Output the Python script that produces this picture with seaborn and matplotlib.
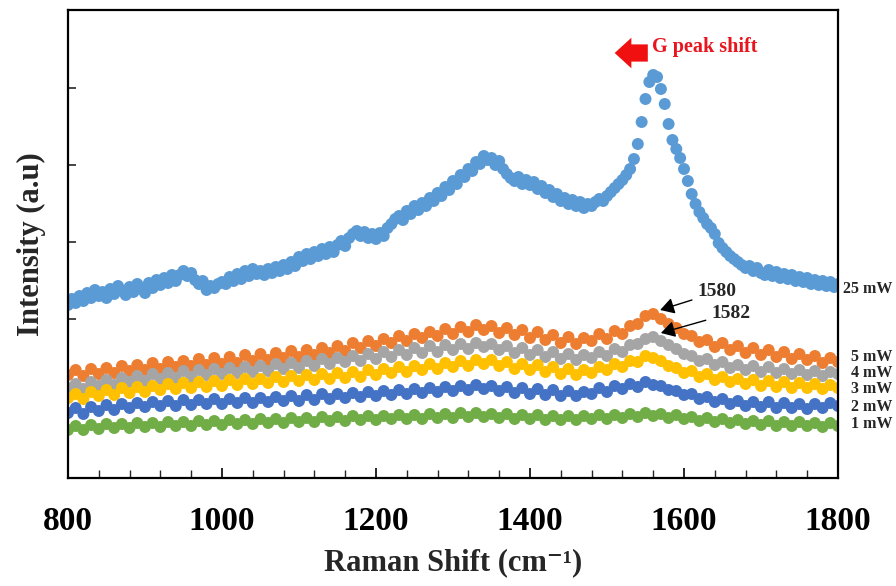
import numpy as np
import pandas as pd
import matplotlib
matplotlib.use("Agg")
import matplotlib.pyplot as plt
from matplotlib.ticker import MultipleLocator
import seaborn as sns

# Raman shift grids (cm^-1)
shift_fine = np.arange(800, 1805, 5)
shift_coarse = np.arange(800, 1810, 10)

# Intensity (a.u.) for each laser power
i_25mw = [
    169, 175, 171, 178, 173, 181, 176, 184, 178, 182, 176, 185, 180, 188, 183, 179, 187, 182, 190, 185,
    181, 191, 186, 194, 189, 196, 191, 199, 193, 199, 203, 198, 201, 194, 190, 193, 184, 188, 186, 190,
    192, 190, 197, 193, 200, 195, 203, 198, 205, 200, 203, 199, 205, 201, 207, 203, 209, 205, 212, 208,
    217, 213, 220, 215, 222, 218, 225, 220, 227, 222, 229, 233, 228, 236, 240, 243, 238, 242, 236, 240,
    235, 241, 238, 246, 250, 255, 258, 254, 263, 260, 268, 264, 271, 268, 276, 273, 281, 278, 287, 284,
    293, 290, 299, 297, 305, 303, 312, 310, 318, 314, 316, 309, 313, 305, 300, 296, 293, 297, 290, 294,
    289, 292, 285, 288, 281, 284, 277, 280, 273, 276, 270, 274, 268, 272, 266, 270, 268, 272, 275, 273,
    278, 282, 286, 290, 294, 299, 305, 315, 330, 352, 375, 392, 399, 397, 385, 370, 350, 334, 325, 316,
    305, 293, 280, 270, 262, 256, 250, 246, 240, 231, 226, 222, 218, 215, 212, 209, 206, 208, 203, 206,
    201, 199, 204, 198, 202, 196, 200, 195, 199, 193, 197, 192, 196, 190, 194, 189, 193, 188, 192, 187,
    190,
]
i_5mw = [
    99, 104, 98, 105, 100, 106, 101, 108, 103, 109, 104, 111, 105, 112, 107, 113, 108, 115, 109, 116,
    110, 117, 111, 119, 113, 120, 114, 121, 116, 123, 117, 124, 119, 126, 121, 128, 123, 131, 126, 133,
    128, 135, 131, 138, 133, 140, 136, 142, 138, 145, 140, 147, 142, 149, 144, 148, 141, 146, 139, 144,
    136, 142, 134, 139, 131, 137, 130, 136, 133, 140, 135, 143, 140, 148, 150, 158, 160, 155, 150, 146,
    140, 138, 132, 134, 127, 131, 124, 128, 121, 126, 119, 124, 117, 122, 115, 120, 114, 118, 111, 116,
    112,
]
i_4mw = [
    86, 90, 85, 92, 88, 94, 89, 96, 92, 98, 93, 100, 95, 101, 96, 103, 97, 104, 99, 105,
    100, 106, 101, 107, 102, 108, 103, 110, 105, 111, 106, 113, 108, 115, 110, 116, 112, 118, 113, 120,
    115, 122, 117, 124, 119, 126, 121, 128, 122, 129, 124, 130, 125, 131, 127, 130, 124, 128, 121, 126,
    119, 124, 117, 122, 115, 120, 114, 119, 116, 122, 118, 125, 122, 129, 130, 135, 137, 133, 129, 125,
    120, 118, 113, 115, 109, 112, 106, 109, 104, 108, 102, 107, 101, 105, 100, 104, 99, 103, 98, 102,
    100,
]
i_3mw = [
    76, 80, 75, 82, 78, 84, 79, 86, 81, 87, 82, 88, 84, 90, 85, 91, 86, 92, 87, 93,
    88, 94, 89, 95, 90, 95, 91, 97, 92, 98, 93, 99, 94, 100, 95, 101, 96, 102, 97, 104,
    99, 105, 101, 107, 102, 108, 104, 110, 105, 111, 107, 113, 108, 114, 110, 114, 108, 112, 105, 110,
    104, 109, 102, 107, 100, 105, 99, 104, 101, 107, 104, 110, 107, 113, 112, 118, 116, 113, 108, 106,
    101, 103, 97, 100, 94, 97, 92, 95, 90, 94, 88, 93, 87, 92, 86, 91, 86, 90, 85, 89,
    86,
]
i_2mw = [
    61, 66, 60, 67, 63, 69, 64, 70, 66, 71, 67, 72, 68, 73, 68, 74, 69, 74, 70, 75,
    70, 75, 71, 76, 71, 76, 72, 77, 73, 78, 73, 79, 74, 80, 75, 80, 76, 81, 77, 82,
    78, 83, 79, 84, 80, 85, 81, 86, 82, 87, 83, 88, 84, 89, 85, 88, 83, 87, 81, 86,
    80, 85, 79, 84, 78, 83, 78, 82, 80, 86, 82, 88, 85, 90, 87, 92, 89, 88, 84, 83,
    79, 80, 75, 77, 72, 75, 70, 73, 68, 72, 67, 72, 66, 71, 66, 70, 65, 70, 66, 71,
    68,
]
i_1mw = [
    44, 48, 44, 49, 45, 50, 46, 50, 46, 51, 47, 51, 47, 52, 48, 52, 48, 53, 49, 53,
    49, 54, 50, 54, 50, 55, 51, 55, 51, 56, 52, 56, 52, 57, 53, 57, 53, 58, 54, 58,
    54, 58, 55, 59, 55, 59, 55, 60, 56, 60, 56, 61, 57, 61, 57, 60, 56, 60, 55, 59,
    55, 59, 54, 58, 54, 58, 54, 58, 55, 59, 55, 59, 56, 60, 57, 61, 58, 60, 56, 59,
    55, 57, 53, 56, 52, 55, 51, 54, 50, 53, 49, 53, 48, 52, 48, 52, 48, 51, 47, 51,
    48,
]

powers = ["25 mW", "5 mW", "4 mW", "3 mW", "2 mW", "1 mW"]
colors = ["#5B9BD5", "#ED7D31", "#A5A5A5", "#FFC000", "#4472C4", "#70AD47"]
series = [i_25mw, i_5mw, i_4mw, i_3mw, i_2mw, i_1mw]
grids = [shift_fine] + [shift_coarse] * 5

frames = []
for p, g, v in zip(powers, grids, series):
    frames.append(pd.DataFrame({"shift": g, "intensity": v, "power": p}))
df = pd.concat(frames, ignore_index=True)

sns.set_theme(style="ticks")
plt.rcParams["font.family"] = ["Liberation Serif", "DejaVu Serif"]
plt.rcParams["font.weight"] = "bold"

fig = plt.figure(figsize=(8.96, 5.86), dpi=100)
ax = fig.add_axes([68 / 896, 1 - 478 / 586, (838 - 68) / 896, (478 - 10) / 586])

sns.scatterplot(
    data=df, x="shift", y="intensity", hue="power", hue_order=powers,
    palette=colors, s=74, linewidth=0, alpha=1, legend=False, ax=ax,
)

ax.set_xlim(800, 1800)
ax.set_ylim(-4, 464)
ax.xaxis.set_major_locator(MultipleLocator(200))
ax.xaxis.set_minor_locator(MultipleLocator(40))
ax.set_yticks([77.3 * k for k in range(1, 6)])
ax.tick_params(axis="x", which="major", direction="in", length=7, width=1.2,
               labelsize=24, pad=20, colors="black")
ax.tick_params(axis="x", which="minor", direction="in", length=6, width=1.0)
ax.tick_params(axis="y", which="major", direction="in", length=6, width=1.2,
               labelleft=False)
for lab in ax.get_xticklabels():
    lab.set_fontweight("bold")
for sp in ax.spines.values():
    sp.set_visible(True)
    sp.set_color("black")
    sp.set_linewidth(1.6)

ax.set_xlabel("Raman Shift (cm\u207b\u00b9)", fontsize=22, fontweight="bold", labelpad=8)
ax.set_ylabel("Intensity (a.u)", fontsize=22, fontweight="bold", labelpad=16)

# power labels to the right of the frame
label_y = [185, 117, 101, 85, 67, 50]
for p, yv in zip(powers, label_y):
    ax.text(1871, yv, p, ha="right", va="center", fontsize=11.5,
            fontweight="bold", clip_on=False)

# G-peak position callouts
ax.annotate("1580", xy=(1569, 164), xytext=(1618, 182), fontsize=14, fontweight="bold",
            va="center", ha="left",
            arrowprops=dict(arrowstyle="-|>,head_length=0.6,head_width=0.35",
                            color="black", lw=1.0, shrinkA=2, shrinkB=0,
                            mutation_scale=14))
ax.annotate("1582", xy=(1570, 141), xytext=(1636, 161), fontsize=14, fontweight="bold",
            va="center", ha="left",
            arrowprops=dict(arrowstyle="-|>,head_length=0.6,head_width=0.35",
                            color="black", lw=1.0, shrinkA=2, shrinkB=0,
                            mutation_scale=14))

# red shift indicator
ax.annotate("", xy=(1510, 421), xytext=(1553, 421),
            arrowprops=dict(arrowstyle="simple,head_length=0.6,head_width=1.1,tail_width=0.62",
                            color="#F01010", lw=0, shrinkA=0, shrinkB=0,
                            mutation_scale=20))
ax.text(1558, 427, "G peak shift", color="#E8141E", fontsize=14.5, fontweight="bold",
        ha="left", va="center")

fig.savefig("out.png", dpi=100)
